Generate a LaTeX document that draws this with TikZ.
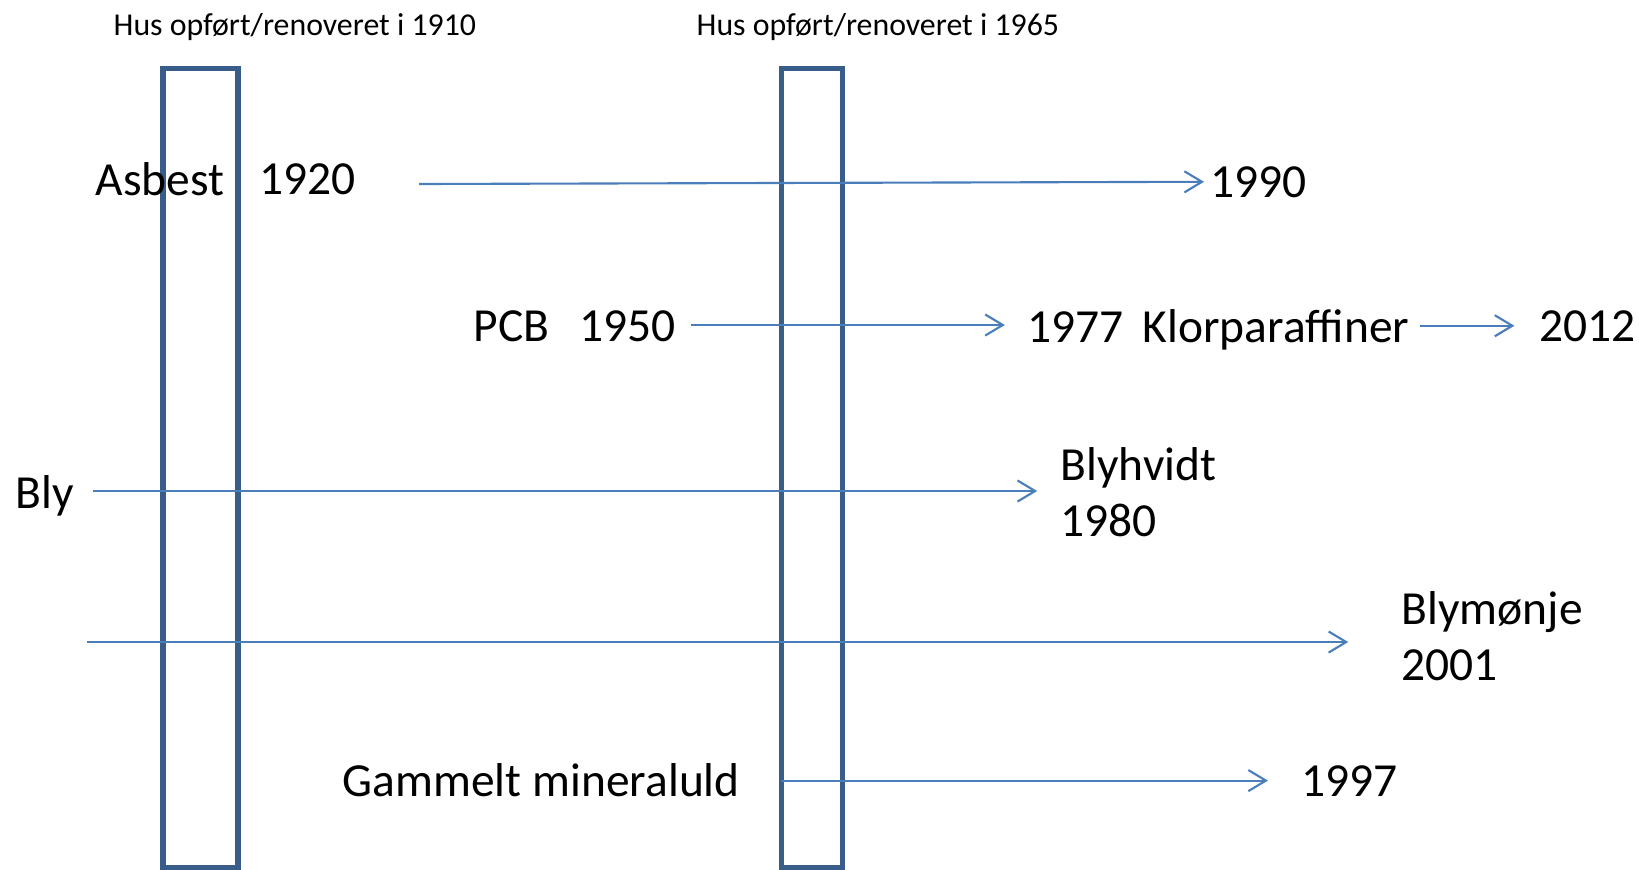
\documentclass[tikz,border=0pt]{standalone}
\usepackage{fontspec}
\setmainfont{Carlito}
\usetikzlibrary{arrows.meta}
\definecolor{housecol}{HTML}{385D8A}
\definecolor{arrowcol}{HTML}{4A7EBB}
\begin{document}
\begin{tikzpicture}[x=0.01cm,y=-0.01cm,
        house/.style={draw=housecol,line width=1.5pt,inner sep=0pt,outer sep=0pt},
        arr/.style={draw=arrowcol,line width=0.6pt,-{Straight Barb[length=5pt,width=6pt]}},
        big/.style={inner sep=0pt,anchor=base west,font=\fontsize{13.5}{16}\selectfont},
        small/.style={inner sep=0pt,anchor=base west,font=\fontsize{9.05}{11}\selectfont}]
        \useasboundingbox (0,0) rectangle (1639,869);
        \node[small] (t1910) at (113,35) {Hus opført/renoveret i 1910};
        \node[small] (t1965) at (696,35) {Hus opført/renoveret i 1965};
        \node[house,minimum width=0.75cm,minimum height=7.98cm] (h1910) at (200.5,468) {};
        \node[house,minimum width=0.615cm,minimum height=7.98cm] (h1965) at (812,468) {};
        \node[big] (tAsbest) at (95,195) {Asbest};
        \node[big] (t1920) at (259,194) {1920};
        \node[big] (n1990) at (1210,197) {1990};
        \node[big] (tPCB) at (473,341) {PCB};
        \node[big] (t1950) at (579,341) {1950};
        \node[big] (t1977) at (1027,342) {1977\hspace{2.3pt} Klorparaffiner};
        \node[big] (n2012) at (1539,341) {2012};
        \node[big] (tBly) at (15,508) {Bly};
        \node[big] (tBlyhvidt) at (1060,480) {Blyhvidt};
        \node[big] (n1980) at (1060,536) {1980};
        \node[big] (tBlymonje) at (1401,624) {Blymønje};
        \node[big] (n2001) at (1401,680) {2001};
        \node[big] (tMineraluld) at (342,796) {Gammelt mineraluld};
        \node[big] (n1997) at (1301,796) {1997};
        \coordinate (a1s) at (419,184);
        \coordinate (a2s) at (691,325);
        \coordinate (a4s) at (93,491);
        \coordinate (a5s) at (87,642);
        \draw[arr,shorten >=1.7pt] (a1s) -- (n1990.west);
        \draw[arr,shorten >=6.3pt] (a2s) -- (a2s -| t1977.west);
        \draw[arr,shorten <=2.8pt,shorten >=7pt] (n2012.west -| t1977.east) -- (n2012.west);
        \draw[arr,shorten >=6.5pt] (a4s) -- (a4s -| tBlyhvidt.west);
        \draw[arr,shorten >=15pt] (a5s) -- (a5s -| tBlymonje.west);
        \draw[arr,shorten >=9.4pt] (h1965.west |- n1997.west) -- (n1997.west);
    \end{tikzpicture}
\end{document}
